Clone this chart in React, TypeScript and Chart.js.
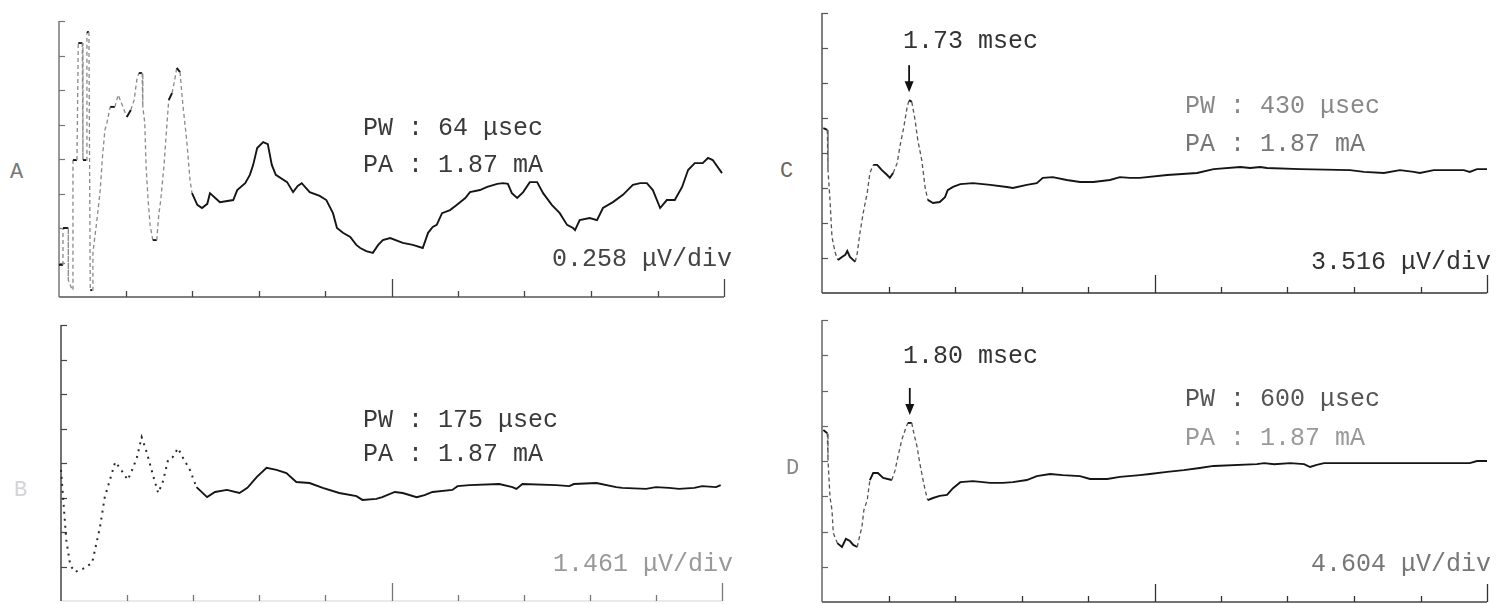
import React, { useEffect, useRef } from "react";
import { Chart, registerables } from "chart.js";
Chart.register(...registerables);

// ---------- data (time in divisions, amplitude in divisions) ----------
const DIV_X = 10;
const DIV_Y = 8;

const panelLetters = ["A", "B", "C", "D"];
const pulseWidthsUs = ["64", "175", "430", "600"];
const pulseAmpsMA = ["1.87", "1.87", "1.87", "1.87"];
const sensitivities = ["0.258", "1.461", "3.516", "4.604"];
const latenciesMs = [null, null, "1.73", "1.80"];

const traceA: [number, number][] = [
  [0, 0.93], [0.06, 0.93], [0.06, 2.0], [0.14, 2.0], [0.14, 0.49], [0.2, 0.2], [0.21, 3.97], [0.27, 3.97],
  [0.29, 7.36], [0.35, 7.36], [0.36, 3.97], [0.41, 3.97], [0.42, 7.68], [0.45, 7.68], [0.47, 0.2], [0.5, 0.2],
  [0.51, 1.28], [0.57, 2.23], [0.62, 3.1], [0.65, 3.97], [0.69, 4.84], [0.72, 5.04], [0.77, 5.51], [0.84, 5.51],
  [0.89, 5.86], [0.95, 5.57], [1.02, 5.22], [1.08, 5.42], [1.13, 5.71], [1.17, 6.29], [1.2, 6.49], [1.25, 6.49],
  [1.26, 5.51], [1.29, 5.04], [1.31, 3.77], [1.34, 2.81], [1.37, 2.09], [1.41, 1.65], [1.47, 1.65], [1.5, 2.38],
  [1.53, 2.81], [1.58, 3.83], [1.62, 4.93], [1.65, 5.71], [1.7, 5.91], [1.74, 6.29], [1.77, 6.64], [1.82, 6.52],
  [1.86, 5.62], [1.92, 4.55], [1.97, 3.39], [2.0, 3.01], [2.08, 2.67], [2.15, 2.58], [2.23, 2.7], [2.27, 3.01],
  [2.35, 2.87], [2.42, 2.75], [2.62, 2.81], [2.68, 3.1], [2.8, 3.3], [2.87, 3.54], [2.92, 3.83], [2.98, 4.32],
  [3.07, 4.49], [3.14, 4.43], [3.2, 3.83], [3.26, 3.54], [3.43, 3.33], [3.52, 3.04], [3.59, 3.22], [3.65, 3.3],
  [3.77, 3.04], [3.92, 2.93], [4.02, 2.81], [4.12, 2.43], [4.18, 2.0], [4.27, 1.86], [4.38, 1.74], [4.47, 1.51],
  [4.53, 1.42], [4.62, 1.33], [4.72, 1.28], [4.8, 1.51], [4.87, 1.65], [4.98, 1.71], [5.17, 1.57], [5.32, 1.51],
  [5.47, 1.42], [5.55, 1.86], [5.62, 2.03], [5.68, 2.09], [5.76, 2.43], [5.88, 2.52], [5.98, 2.67], [6.11, 2.87],
  [6.18, 3.04], [6.33, 3.1], [6.44, 3.19], [6.59, 3.28], [6.68, 3.3], [6.75, 3.28], [6.81, 3.01], [6.89, 2.87],
  [6.98, 3.04], [7.08, 3.33], [7.19, 3.33], [7.28, 3.01], [7.41, 2.67], [7.53, 2.43], [7.64, 2.09], [7.73, 2.0],
  [7.76, 1.94], [7.83, 2.23], [7.98, 2.29], [8.09, 2.23], [8.18, 2.58], [8.33, 2.75], [8.48, 2.96], [8.63, 3.25],
  [8.74, 3.3], [8.84, 3.3], [8.93, 3.1], [9.04, 2.58], [9.14, 2.81], [9.26, 2.81], [9.37, 3.19], [9.46, 3.68],
  [9.56, 3.88], [9.68, 3.88], [9.76, 4.03], [9.83, 3.97], [9.97, 3.59],
];

const traceB: [number, number][] = [
  [0, 3.8], [0.08, 1.77], [0.14, 1.04], [0.21, 0.84], [0.33, 0.93], [0.47, 1.1], [0.59, 2.14], [0.66, 2.99],
  [0.74, 3.51], [0.82, 4.03], [0.89, 3.86], [1.01, 3.51], [1.09, 3.86], [1.15, 4.17], [1.22, 4.75], [1.3, 4.29],
  [1.37, 3.8], [1.47, 3.13], [1.54, 3.45], [1.62, 4.09], [1.69, 4.17], [1.77, 4.43], [1.84, 4.17], [1.95, 3.8],
  [2.05, 3.3], [2.21, 3.01], [2.33, 3.16], [2.51, 3.22], [2.7, 3.13], [2.82, 3.28], [2.96, 3.59], [3.11, 3.86],
  [3.26, 3.8], [3.41, 3.71], [3.56, 3.45], [3.76, 3.42], [3.96, 3.28], [4.21, 3.13], [4.47, 3.04], [4.56, 2.93],
  [4.77, 2.96], [4.86, 3.01], [5.05, 3.16], [5.17, 3.13], [5.38, 3.01], [5.5, 3.07], [5.62, 3.16], [5.92, 3.22],
  [6.0, 3.33], [6.18, 3.36], [6.63, 3.39], [6.83, 3.3], [6.89, 3.25], [6.98, 3.39], [7.49, 3.36], [7.69, 3.33],
  [7.76, 3.39], [8.1, 3.42], [8.4, 3.3], [8.49, 3.28], [8.85, 3.25], [9.0, 3.3], [9.2, 3.28], [9.35, 3.25],
  [9.58, 3.28], [9.7, 3.33], [9.91, 3.3], [9.98, 3.36],
];

const traceC: [number, number][] = [
  [0.02, 4.71], [0.08, 4.66], [0.09, 3.51], [0.12, 2.66], [0.15, 1.6], [0.2, 1.14], [0.24, 0.94], [0.3, 1.03],
  [0.35, 1.09], [0.38, 1.2], [0.42, 1.03], [0.5, 0.89], [0.53, 1.14], [0.57, 1.71], [0.62, 2.29], [0.68, 2.86],
  [0.72, 3.43], [0.77, 3.66], [0.83, 3.66], [0.9, 3.51], [0.98, 3.37], [1.02, 3.29], [1.07, 3.43], [1.13, 3.71],
  [1.17, 4.17], [1.23, 4.74], [1.28, 5.31], [1.31, 5.51], [1.35, 5.46], [1.4, 4.94], [1.44, 4.37], [1.5, 3.8],
  [1.55, 3.03], [1.59, 2.66], [1.67, 2.57], [1.77, 2.6], [1.85, 2.74], [1.89, 2.94], [1.97, 3.03], [2.08, 3.11],
  [2.27, 3.14], [2.53, 3.09], [2.78, 3.03], [2.87, 3.0], [3.08, 3.09], [3.23, 3.14], [3.32, 3.29], [3.47, 3.31],
  [3.68, 3.23], [3.88, 3.17], [4.08, 3.17], [4.33, 3.23], [4.48, 3.31], [4.63, 3.29], [4.78, 3.29], [5.19, 3.37],
  [5.64, 3.43], [5.89, 3.54], [6.29, 3.6], [6.44, 3.57], [6.59, 3.6], [6.69, 3.57], [7.19, 3.54], [7.94, 3.51],
  [8.15, 3.46], [8.45, 3.43], [8.69, 3.51], [8.9, 3.46], [8.99, 3.43], [9.2, 3.51], [9.65, 3.51], [9.74, 3.46],
  [9.85, 3.54], [10.0, 3.54],
];

const traceD: [number, number][] = [
  [0.02, 4.88], [0.08, 4.79], [0.09, 4.03], [0.12, 2.98], [0.15, 2.61], [0.17, 1.96], [0.23, 1.67], [0.3, 1.56],
  [0.36, 1.79], [0.42, 1.73], [0.47, 1.62], [0.53, 1.56], [0.56, 1.82], [0.6, 2.13], [0.63, 2.61], [0.68, 2.89],
  [0.72, 3.46], [0.77, 3.66], [0.84, 3.66], [0.92, 3.52], [1.05, 3.46], [1.1, 3.74], [1.14, 4.11], [1.2, 4.6],
  [1.25, 4.88], [1.29, 5.08], [1.35, 5.08], [1.37, 4.88], [1.43, 4.4], [1.47, 3.94], [1.52, 3.46], [1.55, 3.18],
  [1.59, 2.89], [1.67, 2.95], [1.77, 3.01], [1.88, 3.04], [1.97, 3.23], [2.08, 3.4], [2.27, 3.43], [2.53, 3.38],
  [2.72, 3.38], [2.87, 3.4], [3.08, 3.46], [3.23, 3.57], [3.43, 3.63], [3.62, 3.6], [3.88, 3.57], [4.03, 3.49],
  [4.29, 3.49], [4.48, 3.55], [4.78, 3.6], [4.93, 3.63], [5.19, 3.69], [5.44, 3.74], [5.68, 3.8], [5.89, 3.86],
  [6.54, 3.91], [6.65, 3.94], [6.8, 3.91], [7.04, 3.94], [7.25, 3.91], [7.34, 3.83], [7.44, 3.89], [7.55, 3.94],
  [8.45, 3.94], [9.44, 3.94], [9.74, 3.94], [9.85, 4.0], [10.0, 4.0],
];

// latency markers (peak positions marked by the arrows)
const peakC: [number, number] = [1.31, 5.51];
const peakD: [number, number] = [1.32, 5.08];

// ---------- layout / style ----------
const PAD = 14;
const FONT = '"Liberation Mono", "DejaVu Sans Mono", monospace';

const panels = [
  { trace: traceA, box: { left: 59, top: 21, width: 665, height: 276 }, dashBefore: 2.0, early: "steep", fast: "#8a8a8a", xAxis: "#555", yAxis: "#777", tick: "#444", peak: null as [number, number] | null },
  { trace: traceB, box: { left: 61, top: 325, width: 661, height: 276 }, dashBefore: 2.0, early: "all", fast: "#2a2a2a", xAxis: "#e2e2e2", yAxis: "#444", tick: "#777", peak: null },
  { trace: traceC, box: { left: 822, top: 13, width: 665, height: 280 }, dashBefore: 1.7, early: "steep", fast: "#555", xAxis: "#333", yAxis: "#555", tick: "#333", peak: peakC },
  { trace: traceD, box: { left: 822, top: 320, width: 665, height: 282 }, dashBefore: 1.7, early: "steep", fast: "#555", xAxis: "#444", yAxis: "#666", tick: "#333", peak: peakD },
];

const textLayout = [
  { letter: [10, 172, "#777"], pw: [363, 127, "#3a3a3a"], pa: [363, 164, "#3a3a3a"], sens: [552, 258, "#444"], lat: null },
  { letter: [14, 490, "#d4d4d4"], pw: [363, 419, "#3a3a3a"], pa: [363, 453, "#3a3a3a"], sens: [553, 563, "#999"], lat: null },
  { letter: [780, 171, "#666"], pw: [1185, 105, "#888"], pa: [1185, 143, "#777"], sens: [1311, 261, "#333"], lat: [903, 40, "#333"] },
  { letter: [786, 468, "#888"], pw: [1185, 398, "#555"], pa: [1185, 437, "#999"], sens: [1311, 563, "#777"], lat: [903, 355, "#333"] },
];

const scopeAxes = {
  id: "scopeAxes",
  beforeDatasetsDraw(chart: any, _args: any, opts: any) {
    const { ctx } = chart;
    const xs = chart.scales.x;
    const ys = chart.scales.y;
    const x0 = xs.getPixelForValue(0);
    const x1 = xs.getPixelForValue(DIV_X);
    const yb = ys.getPixelForValue(0);
    const yt = ys.getPixelForValue(DIV_Y);
    ctx.save();
    ctx.lineCap = "butt";
    // x axis
    ctx.strokeStyle = opts.xAxis;
    ctx.lineWidth = 1.5;
    ctx.beginPath();
    ctx.moveTo(x0, yb);
    ctx.lineTo(x1, yb);
    ctx.stroke();
    ctx.strokeStyle = opts.tick;
    ctx.lineWidth = 1.3;
    for (let i = 1; i <= DIV_X; i++) {
      const px = Math.round(xs.getPixelForValue(i)) + 0.5;
      const len = i % 5 === 0 ? 18 : 6;
      ctx.beginPath();
      ctx.moveTo(px, yb);
      ctx.lineTo(px, yb - len);
      ctx.stroke();
    }
    // y axis
    ctx.strokeStyle = opts.yAxis;
    ctx.lineWidth = 1.5;
    ctx.beginPath();
    ctx.moveTo(x0, yb);
    ctx.lineTo(x0, yt);
    ctx.stroke();
    ctx.lineWidth = 1.2;
    for (let j = 1; j <= DIV_Y; j++) {
      const py = Math.round(ys.getPixelForValue(j)) + 0.5;
      ctx.beginPath();
      ctx.moveTo(x0, py);
      ctx.lineTo(x0 + 6, py);
      ctx.stroke();
    }
    // latency arrow
    if (opts.peak) {
      const ax = xs.getPixelForValue(opts.peak[0]);
      const tip = ys.getPixelForValue(opts.peak[1]) - 8;
      ctx.strokeStyle = "#111";
      ctx.fillStyle = "#111";
      ctx.lineWidth = 1.8;
      ctx.beginPath();
      ctx.moveTo(ax, tip - 27);
      ctx.lineTo(ax, tip - 8);
      ctx.stroke();
      ctx.beginPath();
      ctx.moveTo(ax - 4.5, tip - 11);
      ctx.lineTo(ax + 4.5, tip - 11);
      ctx.lineTo(ax, tip);
      ctx.closePath();
      ctx.fill();
    }
    ctx.restore();
  },
};

function Panel({ p }: { p: (typeof panels)[number] }) {
  const ref = useRef<HTMLCanvasElement | null>(null);
  const W = p.box.width + 2 * PAD;
  const H = p.box.height + 2 * PAD;
  useEffect(() => {
    if (!ref.current) return;
    const trace = p.trace;
    const isFast = (c: any) => {
      if (trace[c.p0DataIndex][0] >= p.dashBefore) return false;
      if (p.early === "all") return true;
      const dx = Math.abs(c.p1.x - c.p0.x);
      const dy = Math.abs(c.p1.y - c.p0.y);
      return dy > 2.2 * dx && dy > 6;
    };
    const dotted = p.early === "all";
    const chart = new Chart(ref.current, {
      type: "line",
      data: {
        datasets: [
          {
            data: trace.map(([x, y]) => ({ x, y })),
            borderColor: "#151515",
            borderWidth: 1.9,
            pointRadius: 0,
            tension: 0,
            clip: false as any,
            borderJoinStyle: "miter",
            segment: {
              borderColor: (c: any) => (isFast(c) ? p.fast : undefined),
              borderDash: (c: any) => (isFast(c) ? (dotted ? [2, 5] : [4, 3]) : undefined),
              borderWidth: (c: any) => (isFast(c) ? (dotted ? 2 : 1.3) : undefined),
            } as any,
          },
        ],
      },
      options: {
        animation: false,
        responsive: false,
        maintainAspectRatio: false,
        events: [],
        layout: { padding: PAD },
        scales: {
          x: { type: "linear", min: 0, max: DIV_X, display: false },
          y: { type: "linear", min: 0, max: DIV_Y, display: false },
        },
        plugins: {
          legend: { display: false },
          tooltip: { enabled: false },
          scopeAxes: { xAxis: p.xAxis, yAxis: p.yAxis, tick: p.tick, peak: p.peak },
        } as any,
      },
      plugins: [scopeAxes],
    });
    return () => chart.destroy();
  }, []);
  return (
    <canvas
      ref={ref}
      width={W}
      height={H}
      style={{ position: "absolute", left: p.box.left - PAD, top: p.box.top - PAD, width: W, height: H }}
    />
  );
}

function Label({ pos, text, size = 25 }: { pos: any; text: string; size?: number }) {
  const [x, cy, color] = pos;
  return (
    <div
      style={{
        position: "absolute",
        left: x,
        top: cy - size * 0.44,
        fontFamily: FONT,
        fontSize: size,
        lineHeight: `${size}px`,
        color,
        whiteSpace: "pre",
      }}
    >
      {text}
    </div>
  );
}

export default function App() {
  return (
    <div
      style={{
        position: "absolute",
        left: 0,
        top: 0,
        width: 1497,
        height: 604,
        overflow: "hidden",
        background: "#fff",
      }}
    >
      {panels.map((p, i) => (
        <Panel key={i} p={p} />
      ))}
      {textLayout.map((t, i) => (
        <React.Fragment key={i}>
          <Label pos={t.letter} text={panelLetters[i]} size={22} />
          <Label pos={t.pw} text={`PW : ${pulseWidthsUs[i]} μsec`} />
          <Label pos={t.pa} text={`PA : ${pulseAmpsMA[i]} mA`} />
          <Label pos={t.sens} text={`${sensitivities[i]} μV/div`} />
          {t.lat && latenciesMs[i] && <Label pos={t.lat} text={`${latenciesMs[i]} msec`} />}
        </React.Fragment>
      ))}
    </div>
  );
}
